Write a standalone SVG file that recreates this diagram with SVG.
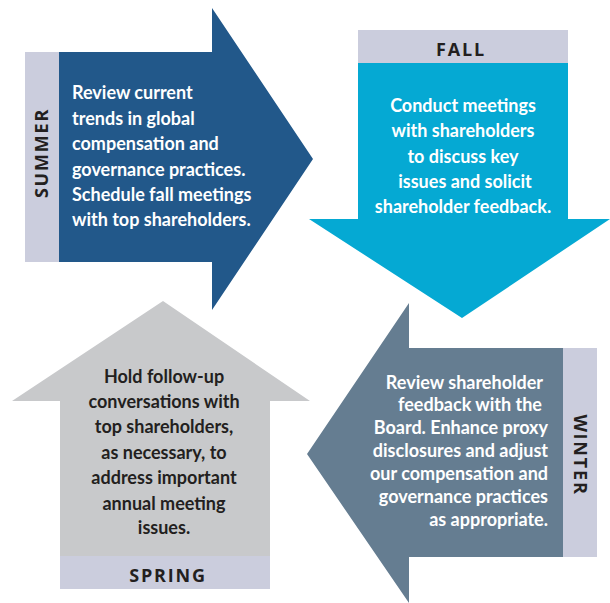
<svg xmlns="http://www.w3.org/2000/svg" width="610" height="603" viewBox="0 0 610 603">
<style>
.body{font-family:Lato,"Open Sans","Liberation Sans",sans-serif;font-weight:bold;font-size:18px;fill:#ffffff}
.dark{fill:#231f20}
.lbl{font-family:"Open Sans",Lato,"Liberation Sans",sans-serif;font-weight:bold;font-size:18px;fill:#231f20;letter-spacing:1.8px}
.strip{fill:#cbcddd}
</style>
<rect width="610" height="603" fill="#ffffff"/>
<g id="summer">
<polygon points="59,52 212,52 212,8 313,159 212,310 212,262 59,262" fill="#22588a"/>
<rect class="strip" x="25" y="52" width="34" height="210"/>
<text class="lbl" transform="translate(48,153) rotate(-90)" text-anchor="middle">SUMMER</text>
<text class="body" x="72" y="99">Review current</text>
<text class="body" x="72" y="124.5">trends in global</text>
<text class="body" x="72" y="150">compensation and</text>
<text class="body" x="72" y="175.5">governance practices.</text>
<text class="body" x="72" y="201">Schedule fall meetings</text>
<text class="body" x="72" y="226">with top shareholders.</text>
</g>
<g id="fall">
<polygon points="358,63 568,63 568,219 610,219 462,318 309,219 358,219" fill="#05a9d3"/>
<rect class="strip" x="358" y="30" width="210" height="33"/>
<text class="lbl" x="461" y="56" text-anchor="middle">FALL</text>
<text class="body" x="463" y="112" text-anchor="middle">Conduct meetings</text>
<text class="body" x="463" y="137" text-anchor="middle">with shareholders</text>
<text class="body" x="463" y="163" text-anchor="middle">to discuss key</text>
<text class="body" x="465" y="187.5" text-anchor="middle">issues and solicit</text>
<text class="body" x="463" y="213" text-anchor="middle">shareholder feedback.</text>
</g>
<g id="winter">
<polygon points="563,348 563,557 409,557 409,603 307,454 409,303 409,348" fill="#657d91"/>
<rect class="strip" x="563" y="348" width="34" height="209"/>
<text class="lbl" transform="translate(574,455) rotate(90)" text-anchor="middle">WINTER</text>
<text class="body" x="543" y="389" text-anchor="end">Review shareholder</text>
<text class="body" x="542" y="411" text-anchor="end">feedback with the</text>
<text class="body" x="548" y="434" text-anchor="end">Board. Enhance proxy</text>
<text class="body" x="548" y="457" text-anchor="end">disclosures and adjust</text>
<text class="body" x="548" y="480" text-anchor="end">our compensation and</text>
<text class="body" x="548" y="503" text-anchor="end">governance practices</text>
<text class="body" x="548" y="526" text-anchor="end">as appropriate.</text>
</g>
<g id="spring">
<polygon points="163,301 310,401 270,401 270,556 60,556 60,401 12,401" fill="#c8c9cb"/>
<rect class="strip" x="60" y="556" width="210" height="33"/>
<text class="lbl" x="168" y="582" text-anchor="middle">SPRING</text>
<text class="body dark" x="164" y="383" text-anchor="middle">Hold follow-up</text>
<text class="body dark" x="164" y="408" text-anchor="middle">conversations with</text>
<text class="body dark" x="164" y="433" text-anchor="middle">top shareholders,</text>
<text class="body dark" x="164" y="459" text-anchor="middle">as necessary, to</text>
<text class="body dark" x="164" y="484" text-anchor="middle">address important</text>
<text class="body dark" x="164" y="510" text-anchor="middle">annual meeting</text>
<text class="body dark" x="164" y="534" text-anchor="middle">issues.</text>
</g>
<g id="connectors"/>
</svg>
